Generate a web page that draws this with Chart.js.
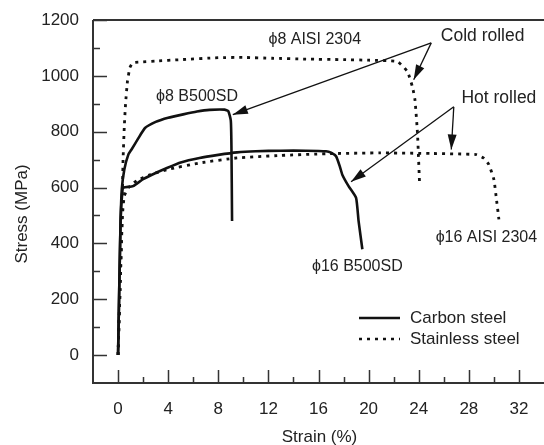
<!DOCTYPE html>
<html><head><meta charset="utf-8">
<script src="https://cdn.jsdelivr.net/npm/chart.js@4.4.0/dist/chart.umd.min.js"></script>
<style>html,body{margin:0;padding:0;background:#fff;}canvas{display:block;}</style>
</head><body>
<canvas id="c" width="544" height="445"></canvas>
<script>
const FONT = '"Liberation Sans", Arial, sans-serif';

// phi8 B500SD (carbon steel, cold rolled)
const c8Strain = [0, 0.12, 0.2, 0.3, 0.5, 0.82, 1.1, 1.6, 2.15, 3.0, 4.0, 5.2, 6.3, 7.3, 8.5, 8.8, 9.0, 9.05, 9.1];
const c8Stress = [0, 300, 480, 595, 665, 718, 738, 775, 813, 835, 850, 862, 872, 878, 879, 874, 840, 750, 480];
// phi16 B500SD (carbon steel, hot rolled)
const c16Strain = [0, 0.2, 0.35, 0.45, 1.2, 2.0, 3.0, 3.9, 5.0, 6.5, 8.0, 9.5, 11, 13, 15, 16.6, 17.0, 17.4, 17.7, 17.9, 18.4, 19.0, 19.2, 19.5];
const c16Stress = [0, 480, 590, 600, 605, 630, 652, 670, 690, 706, 717, 726, 730, 732, 732, 730, 725, 712, 676, 646, 605, 563, 480, 379];
// phi8 AISI 2304 (stainless steel, cold rolled)
const s8Strain = [0, 0.2, 0.3, 0.4, 0.5, 0.6, 0.75, 0.95, 1.2, 2.0, 3.0, 5.0, 8.0, 10, 12.3, 15, 18, 20, 22.3, 23.1, 23.5, 23.7, 23.9, 24.07];
const s8Stress = [0, 300, 470, 700, 820, 900, 980, 1030, 1047, 1050, 1053, 1058, 1065, 1066, 1063, 1060, 1058, 1056, 1051, 1015, 960, 914, 795, 611];
// phi16 AISI 2304 (stainless steel, hot rolled)
const s16Strain = [0, 0.2, 0.35, 0.5, 0.82, 1.5, 2.55, 4.0, 6.5, 9.5, 13, 16.6, 20.9, 25, 28.6, 29.2, 29.6, 30.0, 30.2, 30.4];
const s16Stress = [0, 300, 500, 570, 599, 625, 646, 665, 688, 706, 715, 721, 724, 722, 718, 705, 682, 629, 560, 486];

const xTickLabels = [0, 4, 8, 12, 16, 20, 24, 28, 32];
const yTickLabels = [0, 200, 400, 600, 800, 1000, 1200];
const legendLabels = ['Carbon steel', 'Stainless steel'];

// annotations
const noteTexts = ['\u03d58 AISI 2304', 'Cold rolled', 'Hot rolled', '\u03d58 B500SD', '\u03d516 B500SD', '\u03d516 AISI 2304'];
const noteX = [15.7, 29.1, 30.4, 6.3, 19.1, 29.4];
const noteY = [1129, 1143, 921, 925, 318, 421];
const noteSize = [16, 17.5, 17.5, 16, 16, 16];
// arrows: from apex to tip
const arrowFromX = [25.0, 25.0, 26.8, 26.8];
const arrowFromY = [1118, 1118, 889, 889];
const arrowToX = [9.16, 23.6, 18.6, 26.6];
const arrowToY = [861, 986, 621, 736];

function pts(xs, ys) { return xs.map((x, i) => ({x: x, y: ys[i]})); }

const INK = '#111';
const DOT = [3, 5];

const decor = {
  id: 'decor',
  afterDraw(chart) {
    const ctx = chart.ctx, xs = chart.scales.x, ys = chart.scales.y, a = chart.chartArea;
    ctx.save();
    // frame
    ctx.strokeStyle = '#333';
    ctx.lineWidth = 2;
    ctx.beginPath();
    ctx.moveTo(a.left, a.top); ctx.lineTo(chart.width, a.top);
    ctx.moveTo(a.left, a.top); ctx.lineTo(a.left, a.bottom);
    ctx.moveTo(a.left - 1, a.bottom); ctx.lineTo(chart.width, a.bottom);
    ctx.stroke();
    // ticks
    ctx.lineWidth = 1.5;
    ctx.beginPath();
    for (let v = 0; v <= 1200; v += 100) {
      const p = Math.round(ys.getPixelForValue(v)) + 0.5;
      const len = (v % 200 === 0) ? 14 : 7;
      ctx.moveTo(a.left, p); ctx.lineTo(a.left + len, p);
    }
    for (let v = 0; v <= 32; v += 2) {
      const p = Math.round(xs.getPixelForValue(v)) + 0.5;
      const len = (v % 4 === 0) ? 13 : 6;
      ctx.moveTo(p, a.bottom); ctx.lineTo(p, a.bottom - len);
    }
    ctx.stroke();
    // arrows
    ctx.strokeStyle = INK; ctx.fillStyle = INK; ctx.lineWidth = 1.3;
    for (let i = 0; i < arrowFromX.length; i++) {
      const x0 = xs.getPixelForValue(arrowFromX[i]), y0 = ys.getPixelForValue(arrowFromY[i]);
      const x1 = xs.getPixelForValue(arrowToX[i]), y1 = ys.getPixelForValue(arrowToY[i]);
      ctx.beginPath(); ctx.moveTo(x0, y0); ctx.lineTo(x1, y1); ctx.stroke();
      const ang = Math.atan2(y1 - y0, x1 - x0), L = 15, W = 4.5;
      const bx = x1 - L * Math.cos(ang), by = y1 - L * Math.sin(ang);
      ctx.beginPath();
      ctx.moveTo(x1, y1);
      ctx.lineTo(bx + W * Math.sin(ang), by - W * Math.cos(ang));
      ctx.lineTo(bx - W * Math.sin(ang), by + W * Math.cos(ang));
      ctx.closePath(); ctx.fill();
    }
    // notes
    ctx.fillStyle = '#222';
    ctx.textAlign = 'center'; ctx.textBaseline = 'middle';
    for (let i = 0; i < noteTexts.length; i++) {
      ctx.font = noteSize[i] + 'px ' + FONT;
      ctx.fillText(noteTexts[i], xs.getPixelForValue(noteX[i]), ys.getPixelForValue(noteY[i]));
    }
    // legend
    ctx.font = '17px ' + FONT;
    ctx.textAlign = 'left';
    const lx = a.left + 266, ly = a.top + 298;
    ctx.strokeStyle = INK; ctx.lineWidth = 2.4;
    ctx.beginPath(); ctx.moveTo(lx, ly); ctx.lineTo(lx + 41, ly); ctx.stroke();
    ctx.setLineDash(DOT);
    ctx.beginPath(); ctx.moveTo(lx, ly + 21); ctx.lineTo(lx + 41, ly + 21); ctx.stroke();
    ctx.setLineDash([]);
    ctx.fillStyle = '#222';
    ctx.fillText(legendLabels[0], lx + 51, ly);
    ctx.fillText(legendLabels[1], lx + 51, ly + 21);
    // axis titles
    ctx.textAlign = 'center';
    ctx.fillText('Strain (%)', (a.left + chart.width) / 2 + 1, 437);
    ctx.translate(22, 214);
    ctx.rotate(-Math.PI / 2);
    ctx.fillText('Stress (MPa)', 0, 0);
    ctx.restore();
  }
};

new Chart(document.getElementById('c'), {
  type: 'scatter',
  data: {
    datasets: [
      {label: '\u03d58 B500SD', data: pts(c8Strain, c8Stress), borderColor: INK, borderWidth: 2.6},
      {label: '\u03d516 B500SD', data: pts(c16Strain, c16Stress), borderColor: INK, borderWidth: 2.6},
      {label: '\u03d58 AISI 2304', data: pts(s8Strain, s8Stress), borderColor: INK, borderWidth: 2.8, borderDash: DOT},
      {label: '\u03d516 AISI 2304', data: pts(s16Strain, s16Stress), borderColor: INK, borderWidth: 2.8, borderDash: DOT}
    ]
  },
  options: {
    responsive: false,
    animation: false,
    devicePixelRatio: 1,
    showLine: true,
    elements: {point: {radius: 0, hoverRadius: 0}, line: {tension: 0.15, borderCapStyle: 'butt', borderJoinStyle: 'round'}},
    layout: {autoPadding: false, padding: {top: 20, right: 0, left: 0, bottom: 0}},
    plugins: {legend: {display: false}, tooltip: {enabled: false}},
    scales: {
      x: {
        type: 'linear', min: -2, max: 34,
        grid: {display: false, drawTicks: false}, border: {display: false},
        afterFit(s) { s.height = 62; s.paddingLeft = 0; s.paddingRight = 0; },
        ticks: {
          stepSize: 2, autoSkip: false, maxRotation: 0, padding: 16,
          color: '#222', font: {family: FONT, size: 17},
          callback: v => xTickLabels.includes(v) ? String(v) : ''
        }
      },
      y: {
        type: 'linear', min: -100, max: 1200,
        grid: {display: false, drawTicks: false}, border: {display: false},
        afterFit(s) { s.width = 93; s.paddingTop = 0; s.paddingBottom = 0; },
        ticks: {
          stepSize: 100, autoSkip: false, padding: 14,
          color: '#222', font: {family: FONT, size: 17},
          callback: v => yTickLabels.includes(v) ? String(v) : ''
        }
      }
    }
  },
  plugins: [decor]
});
</script>
</body></html>
